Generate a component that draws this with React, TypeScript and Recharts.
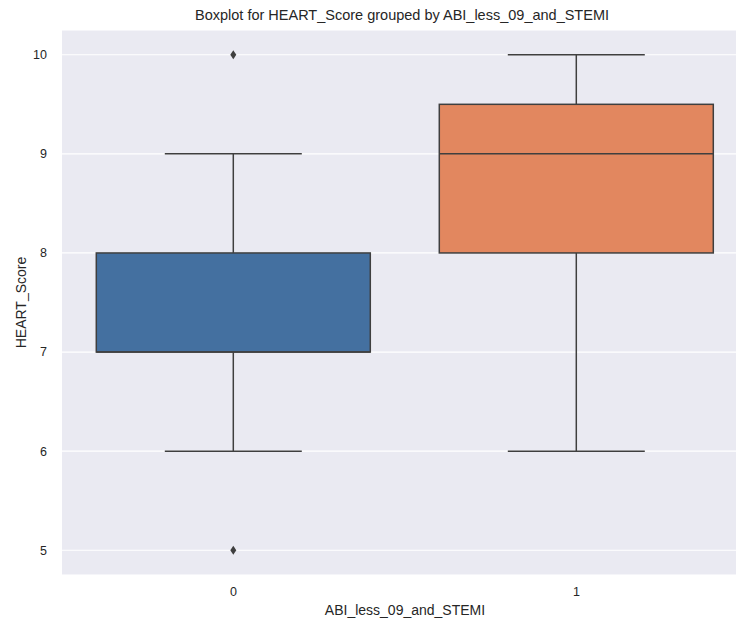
import React from 'react';
import { ComposedChart, Bar, XAxis, YAxis, CartesianGrid, Label } from 'recharts';

const categories = ['0', '1'];
const whiskerLow = [6, 6];
const q1 = [7, 8];
const median = [7, 9];
const q3 = [8, 9.5];
const whiskerHigh = [9, 10];
const outliers: number[][] = [[10, 5], []];
const boxColors = ['#4470a0', '#e2875f'];
const yTicks = [5, 6, 7, 8, 9, 10];

const data = categories.map((c, i) => ({
  cat: c,
  box: [q1[i], q3[i]],
  q1: q1[i],
  q3: q3[i],
  med: median[i],
  lo: whiskerLow[i],
  hi: whiskerHigh[i],
  out: outliers[i],
  color: boxColors[i],
}));

const LINE = '#3f3f3f';
const FONT = '"Liberation Sans", Arial, sans-serif';

const BoxShape = (props: any) => {
  const { x, y, width, height, payload } = props;
  if (payload == null || height == null) return null;
  const unit = height / (payload.q3 - payload.q1);
  const yOf = (v: number) => y + height - (v - payload.q1) * unit;
  const cx = x + width / 2;
  const capHalf = width / 4;
  return (
    <g>
      <line x1={cx} x2={cx} y1={yOf(payload.q3)} y2={yOf(payload.hi)} stroke={LINE} strokeWidth={1.5} />
      <line x1={cx} x2={cx} y1={yOf(payload.q1)} y2={yOf(payload.lo)} stroke={LINE} strokeWidth={1.5} />
      <line x1={cx - capHalf} x2={cx + capHalf} y1={yOf(payload.hi)} y2={yOf(payload.hi)} stroke={LINE} strokeWidth={1.5} />
      <line x1={cx - capHalf} x2={cx + capHalf} y1={yOf(payload.lo)} y2={yOf(payload.lo)} stroke={LINE} strokeWidth={1.5} />
      <rect x={x} y={y} width={width} height={height} fill={payload.color} stroke={LINE} strokeWidth={1.5} />
      <line x1={x} x2={x + width} y1={yOf(payload.med)} y2={yOf(payload.med)} stroke={LINE} strokeWidth={1.5} />
      {payload.out.map((v: number, k: number) => {
        const oy = yOf(v);
        return (
          <path key={k} d={`M${cx},${oy - 4.5} L${cx + 3},${oy} L${cx},${oy + 4.5} L${cx - 3},${oy} Z`} fill={LINE} />
        );
      })}
    </g>
  );
};

export default function App() {
  return (
    <div style={{ position: 'absolute', left: 0, top: 0, width: 736, height: 619, overflow: 'hidden', background: '#fff', fontFamily: FONT }}>
      <div style={{ position: 'absolute', left: 0, top: 7, width: 804, textAlign: 'center', fontSize: 14.5, lineHeight: '17px', color: '#262626' }}>
        Boxplot for HEART_Score grouped by ABI_less_09_and_STEMI
      </div>
      <ComposedChart
        width={760}
        height={619}
        data={data}
        margin={{ top: 30, right: 12, left: 0, bottom: 0 }}
        barCategoryGap="10%"
        style={{ fontFamily: FONT }}
      >
        <CartesianGrid vertical={false} stroke="#ffffff" strokeWidth={1.2} fill="#eaeaf2" />
        <XAxis
          dataKey="cat"
          axisLine={false}
          tickLine={false}
          tickSize={0}
          tickMargin={12}
          height={44}
          tick={{ fill: '#262626', fontSize: 12.5 }}
        >
          <Label value="ABI_less_09_and_STEMI" position="center" dy={13} style={{ fill: '#262626', fontSize: 14 }} />
        </XAxis>
        <YAxis
          type="number"
          domain={[4.75, 10.25]}
          ticks={yTicks}
          allowDataOverflow
          axisLine={false}
          tickLine={false}
          tickSize={0}
          tickMargin={15}
          width={62}
          tick={{ fill: '#262626', fontSize: 12.5 }}
        >
          <Label value="HEART_Score" angle={-90} position="center" dx={-10} style={{ fill: '#262626', fontSize: 14, textAnchor: 'middle' }} />
        </YAxis>
        <Bar dataKey="box" shape={<BoxShape />} isAnimationActive={false} />
      </ComposedChart>
    </div>
  );
}
